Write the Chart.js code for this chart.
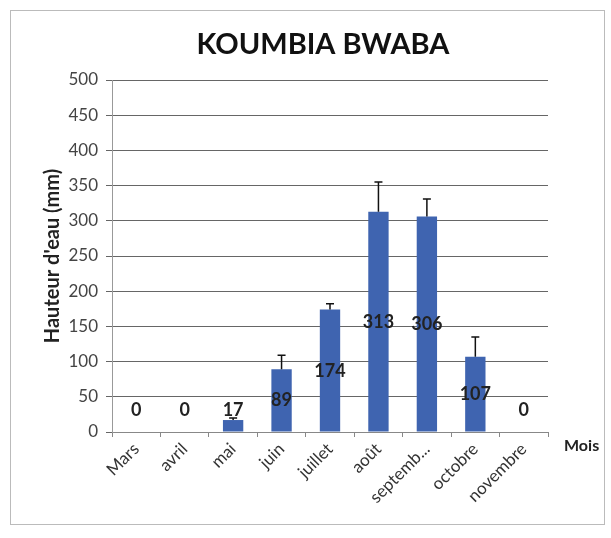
<!DOCTYPE html>
<html lang="fr">
<head>
  <meta charset="UTF-8">
  <title>KOUMBIA BWABA</title>
  <script src="https://cdn.jsdelivr.net/npm/chart.js"></script>
  <style>
    body { margin: 0; background: #fff; }
    #wrap { position: relative; width: 611px; height: 538px; }
  </style>
</head>
<body>
  <div id="wrap"><canvas id="pluieChart" width="611" height="538"></canvas></div>

  <script>
    // données
    const mois = ['Mars', 'avril', 'mai', 'juin', 'juillet', 'août', 'septemb...', 'octobre', 'novembre'];
    const hauteurs = [0, 0, 17, 89, 174, 313, 306, 107, 0];
    const erreurs = [0, 0, 3, 20, 8, 42, 25, 28, 0];
    const yTicks = [0, 50, 100, 150, 200, 250, 300, 350, 400, 450, 500];

    const police = 'Lato, "Open Sans", sans-serif';

    // cadre, titre, barres d'erreur, étiquettes, "Mois"
    const decor = {
      id: 'decor',
      beforeDraw(chart) {
        const c = chart.ctx;
        c.save();
        c.fillStyle = '#fff';
        c.fillRect(0, 0, chart.width, chart.height);
        c.strokeStyle = '#bbb';
        c.lineWidth = 1;
        c.strokeRect(10.5, 10.5, 594, 514);
        c.fillStyle = '#111';
        c.font = 'bold 29px ' + police;
        c.textAlign = 'center';
        c.textBaseline = 'middle';
        c.fillText('KOUMBIA BWABA', 323, 45);
        c.restore();
      },
      afterDatasetsDraw(chart) {
        const c = chart.ctx;
        const meta = chart.getDatasetMeta(0);
        const y = chart.scales.y;
        c.save();
        c.strokeStyle = '#111';
        c.lineWidth = 1.5;
        meta.data.forEach((bar, i) => {
          if (!erreurs[i]) return;
          const top = bar.y;
          const hi = y.getPixelForValue(hauteurs[i] + erreurs[i]);
          c.beginPath();
          c.moveTo(bar.x, top);
          c.lineTo(bar.x, hi);
          c.moveTo(bar.x - 4, hi);
          c.lineTo(bar.x + 4, hi);
          c.stroke();
        });
        c.fillStyle = '#222';
        c.font = 'bold 18px ' + police;
        c.textAlign = 'center';
        c.textBaseline = 'middle';
        const y0 = y.getPixelForValue(0);
        meta.data.forEach((bar, i) => {
          let py = y.getPixelForValue(hauteurs[i] / 2);
          if (py > y0 - 22) py = y0 - 22;
          c.fillText(String(hauteurs[i]), bar.x, py);
        });
        c.font = 'bold 16px ' + police;
        c.textAlign = 'left';
        c.fillText('Mois', 564, y0 + 14);
        c.restore();
      }
    };

    new Chart(document.getElementById('pluieChart'), {
      type: 'bar',
      data: {
        labels: mois,
        datasets: [{
          data: hauteurs,
          backgroundColor: '#3f64b0',
          borderWidth: 0,
          barPercentage: 0.42,
          categoryPercentage: 1
        }]
      },
      options: {
        responsive: false,
        animation: false,
        layout: { padding: { left: 40, right: 63, top: 80, bottom: 0 } },
        plugins: {
          legend: { display: false },
          tooltip: { enabled: false },
          title: { display: false }
        },
        scales: {
          x: {
            offset: true,
            grid: { display: true, drawOnChartArea: false, drawTicks: true, tickLength: 5, offset: true, color: '#888' },
            border: { color: '#888' },
            ticks: {
              minRotation: 45, maxRotation: 45,
              color: '#333',
              padding: 2,
              font: { family: police, size: 17 }
            },
            afterFit(s) { s.height = 106; }
          },
          y: {
            min: 0,
            max: 500,
            afterBuildTicks(s) { s.ticks = yTicks.map(v => ({ value: v })); },
            grid: { color: '#666', tickLength: 6 },
            border: { color: '#999' },
            ticks: {
              color: '#444',
              padding: 8,
              font: { family: police, size: 17 }
            },
            title: {
              display: true,
              text: "Hauteur d'eau (mm)",
              color: '#222',
              font: { family: police, size: 20, weight: 'bold' },
              padding: { top: 1, bottom: 0 }
            },
            afterFit(s) { s.width = 72; }
          }
        }
      },
      plugins: [decor]
    });
  </script>
</body>
</html>
